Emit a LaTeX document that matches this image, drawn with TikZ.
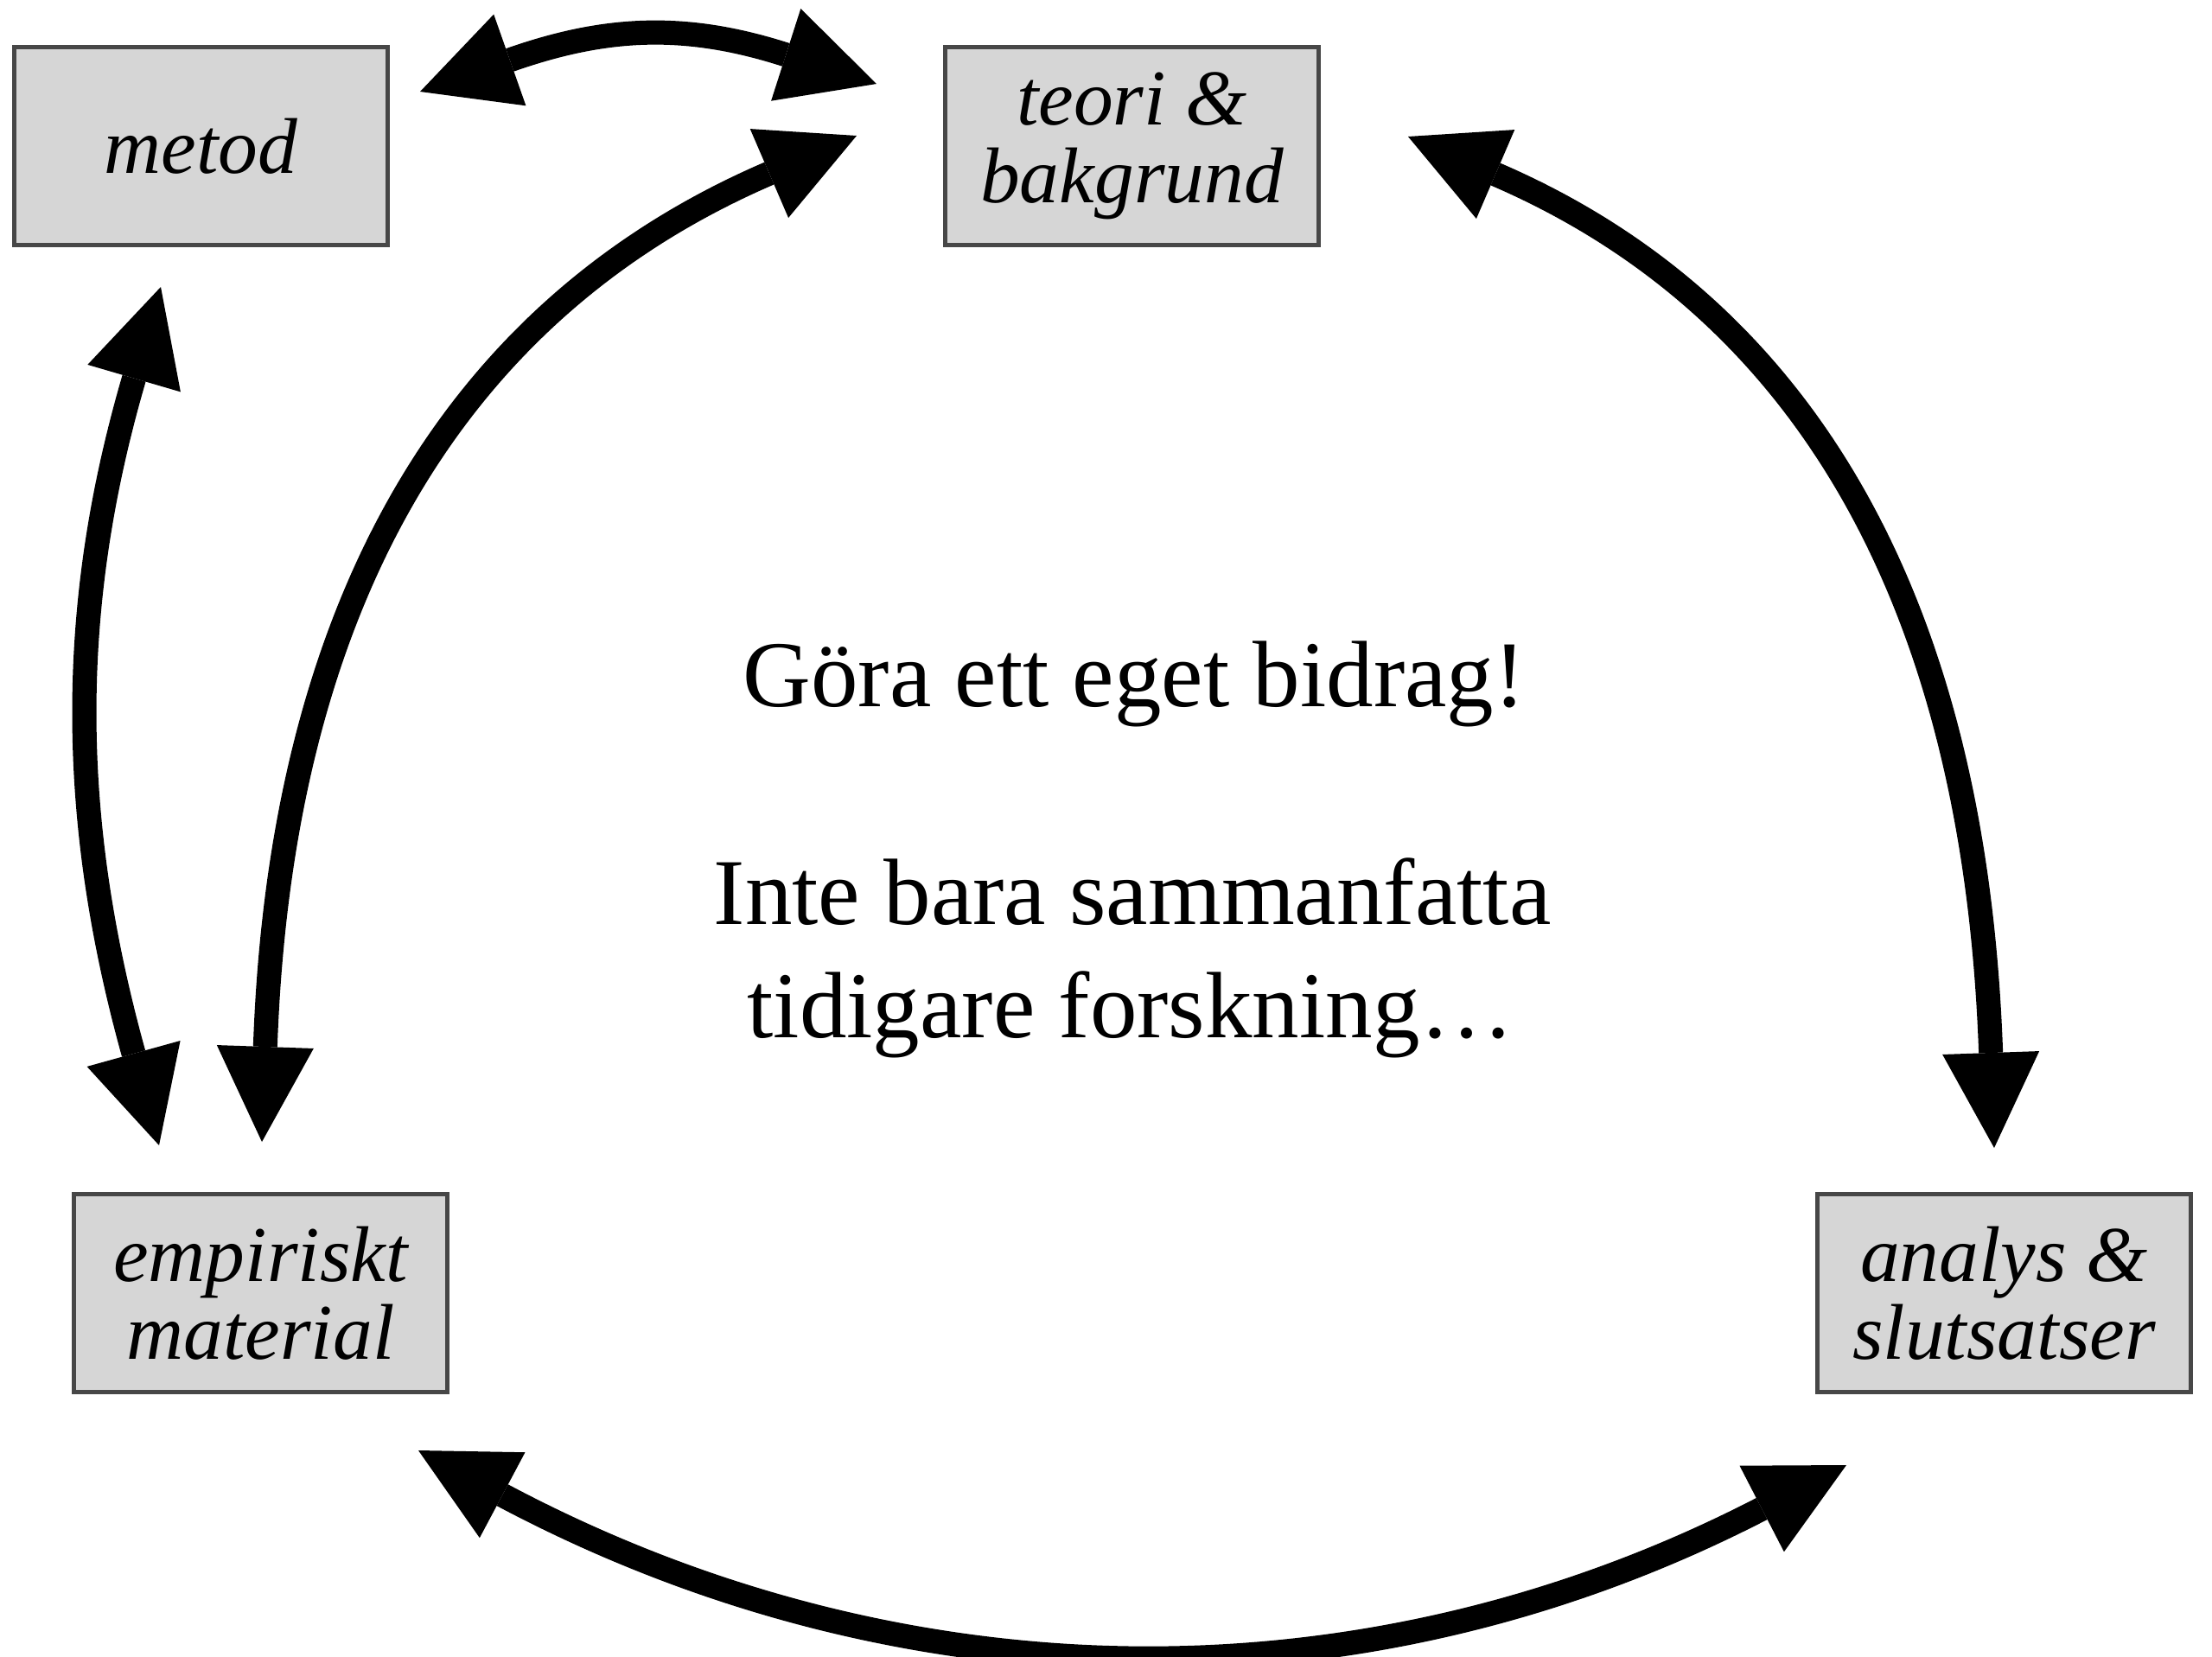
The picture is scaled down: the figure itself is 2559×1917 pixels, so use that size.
\documentclass[tikz,border=0pt]{standalone}
\usepackage{fontspec}
\setmainfont{Liberation Serif}
\usetikzlibrary{arrows.meta}
\definecolor{boxfill}{HTML}{D6D6D6}
\definecolor{boxline}{HTML}{474747}
\tikzset{
  box/.style={draw=boxline, fill=boxfill, line width=0.05cm, minimum width=4.32cm,
    minimum height=2.29cm, inner sep=0pt, align=center,
    font=\itshape\fontsize{26}{25.5}\selectfont},
  maintext/.style={anchor=base, inner sep=0pt, font=\fontsize{31}{36}\selectfont},
  biarrow/.style={line width=0.28cm,
    arrows={Triangle[length=1.1cm,width=1.12cm,line width=0pt]-Triangle[length=1.1cm,width=1.12cm,line width=0pt]}}
}
\begin{document}
\begin{tikzpicture}[x=0.01cm,y=0.01cm]
\useasboundingbox (0,0) rectangle (2559,-1917);
% boxes
\node[box] (metod) at (232.5,-169) {metod};
\node[box] (teori) at (1309.5,-169) {teori \&\\bakgrund};
\node[box] (empir) at (301.5,-1496) {empiriskt\\material};
\node[box] (analys) at (2318.5,-1496) {analys \&\\slutsatser};
% central text
\node[maintext] (c1) at (1312,-817) {Göra ett eget bidrag!};
\node[maintext] (c2) at (1310,-1069) {Inte bara sammanfatta};
\node[maintext] (c3) at (1308,-1200) {tidigare forskning…};
% arrow end points
\coordinate (mA) at ([shift={(253.5,63)}]metod.center);
\coordinate (tA) at ([shift={(-295.5,72)}]teori.center);
\coordinate (mB) at ([shift={(-46.5,-163)}]metod.center);
\coordinate (eB) at ([shift={(-117.5,171)}]empir.center);
\coordinate (eC) at ([shift={(1.5,175)}]empir.center);
\coordinate (tC) at ([shift={(-318.5,12)}]teori.center);
\coordinate (tD) at ([shift={(319.5,11)}]teori.center);
\coordinate (aD) at ([shift={(-11.5,168)}]analys.center);
\coordinate (eE) at ([shift={(182.5,-182)}]empir.center);
\coordinate (aE) at ([shift={(-182.5,-199)}]analys.center);
% arrows
\draw[biarrow] (mA) .. controls +(19.4:230) and +(162.2:230) .. (tA);
\draw[biarrow] (eB) .. controls +(105.5:389) and +(253.7:389) .. (mB);
\draw[biarrow] (eC) .. controls +(88:650) and +(203.3:485) .. (tC);
\draw[biarrow] (aD) .. controls +(92:650) and +(336.7:485) .. (tD);
\draw[biarrow] (eE) .. controls +(-28:630) and +(207.3:630) .. (aE);
\end{tikzpicture}
\end{document}
